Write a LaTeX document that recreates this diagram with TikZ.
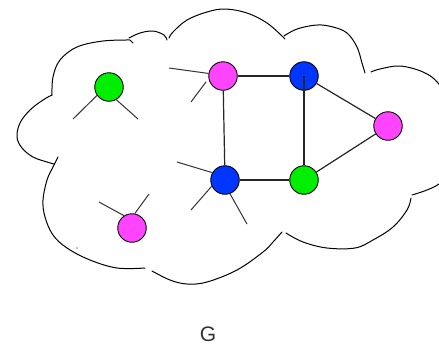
\documentclass[tikz,border=0pt]{standalone}
\usepackage{fontspec}
\setmainfont{Liberation Sans}
\definecolor{vgreen}{HTML}{00EE00}
\definecolor{vpink}{HTML}{FF44FF}
\definecolor{vblue}{HTML}{0036FF}
\tikzset{
  vtx/.style={circle, draw=black, line width=0.9pt, minimum size=28.5pt, inner sep=0pt},
  gv/.style={vtx, fill=vgreen},
  pv/.style={vtx, fill=vpink},
  bv/.style={vtx, fill=vblue},
  edge/.style={draw=black!85, line width=1.2pt},
  stub/.style={draw=black!80, line width=1pt},
  cloudline/.style={draw=black, line width=1pt, line cap=round},
}
\begin{document}
\begin{tikzpicture}[x=1pt, y=-1pt]
\useasboundingbox (0,0) rectangle (439,346);
\clip (0,0) rectangle (439,346);
\fill[white] (0,0) rectangle (439,346);
% cloud outline, drawn in pieces
\draw[cloudline] plot[smooth, tension=0.6] coordinates {(52,95) (53,77) (60,60) (77,47) (103,41) (130,40)} -- (133,43);
\draw[cloudline] plot[smooth, tension=0.6] coordinates {(129,38) (140,33) (153,31) (164,35) (167,40)};
\draw[cloudline] plot[smooth, tension=0.6] coordinates {(169,38) (173,32) (187,20) (207,12) (225,9) (247,13) (267,23) (283,37)} -- (285,39);
\draw[cloudline] plot[smooth, tension=0.6] coordinates {(284,36) (297,29) (317,25) (333,27) (347,33) (357,47) (362,63) (365,73)};
\draw[cloudline] plot[smooth, tension=0.6] coordinates {(371,72) (380,69) (400,66) (423,72) (438,83) (450,105) (452,150) (446,176) (439,184) (427,190) (412,195)};
\draw[cloudline] plot[smooth, tension=0.6] coordinates {(411,198) (407,210) (393,227) (373,240) (355,248) (327,248) (303,242) (286,233)};
\draw[cloudline] plot[smooth, tension=0.6] coordinates {(282,232) (273,242) (263,252) (237,270) (207,282) (187,284) (170,280) (152,271)};
\draw[cloudline] plot[smooth, tension=0.6] coordinates {(145,268) (117,268) (90,260) (67,248) (53,235) (45,217) (43,200) (47,180) (53,167) (58,157)};
\draw[cloudline] plot[smooth, tension=0.6] coordinates {(52,95) (43,100) (30,110) (20,123) (17,137) (22,148) (33,157) (47,162) (54,164)};
\fill[black] (77,248) circle (0.6pt);
% vertices
\node[gv] (gl) at (109,87) {};
\node[pv] (pb) at (132,228) {};
\node[pv] (pt) at (223,76) {};
\node[bv] (bt) at (304,76) {};
\node[pv] (pr) at (388,126) {};
\node[bv] (bb) at (225,180) {};
\node[gv] (gb) at (304,180) {};
% free ends of dangling edges
\coordinate (gla) at (73,119);
\coordinate (glb) at (138,119);
\coordinate (pta) at (169,68);
\coordinate (ptb) at (191,102);
\coordinate (bba) at (177,162);
\coordinate (bbb) at (191,210);
\coordinate (bbc) at (247,224);
\coordinate (pba) at (99,202);
\coordinate (pbb) at (149,194);
% edges
\draw[edge] (pt) -- (bt);
\draw[edge] (pt) -- (bb);
\draw[edge] (bt.center) -- (gb);
\draw[edge] (bb) -- (gb);
\draw[edge] (bt) -- (pr);
\draw[edge] (gb) -- (pr);
% dangling edges
\draw[stub] (gl.215) -- (gla);
\draw[stub] (gl.300) -- (glb);
\draw[stub] (pt.170) -- (pta);
\draw[stub, shorten <=4pt] (pt.190) -- (ptb);
\draw[stub] (bb.150) -- (bba);
\draw[stub] (bb.205) -- (bbb);
\draw[stub] (bb.290) -- (bbc);
\draw[stub] (pb.123) -- (pba);
\draw[stub] (pb.79) -- (pbb);
% label
\node[font=\fontsize{21}{24}\selectfont, text=black!80] (lbl) at (208,334) {G};
\end{tikzpicture}
\end{document}
